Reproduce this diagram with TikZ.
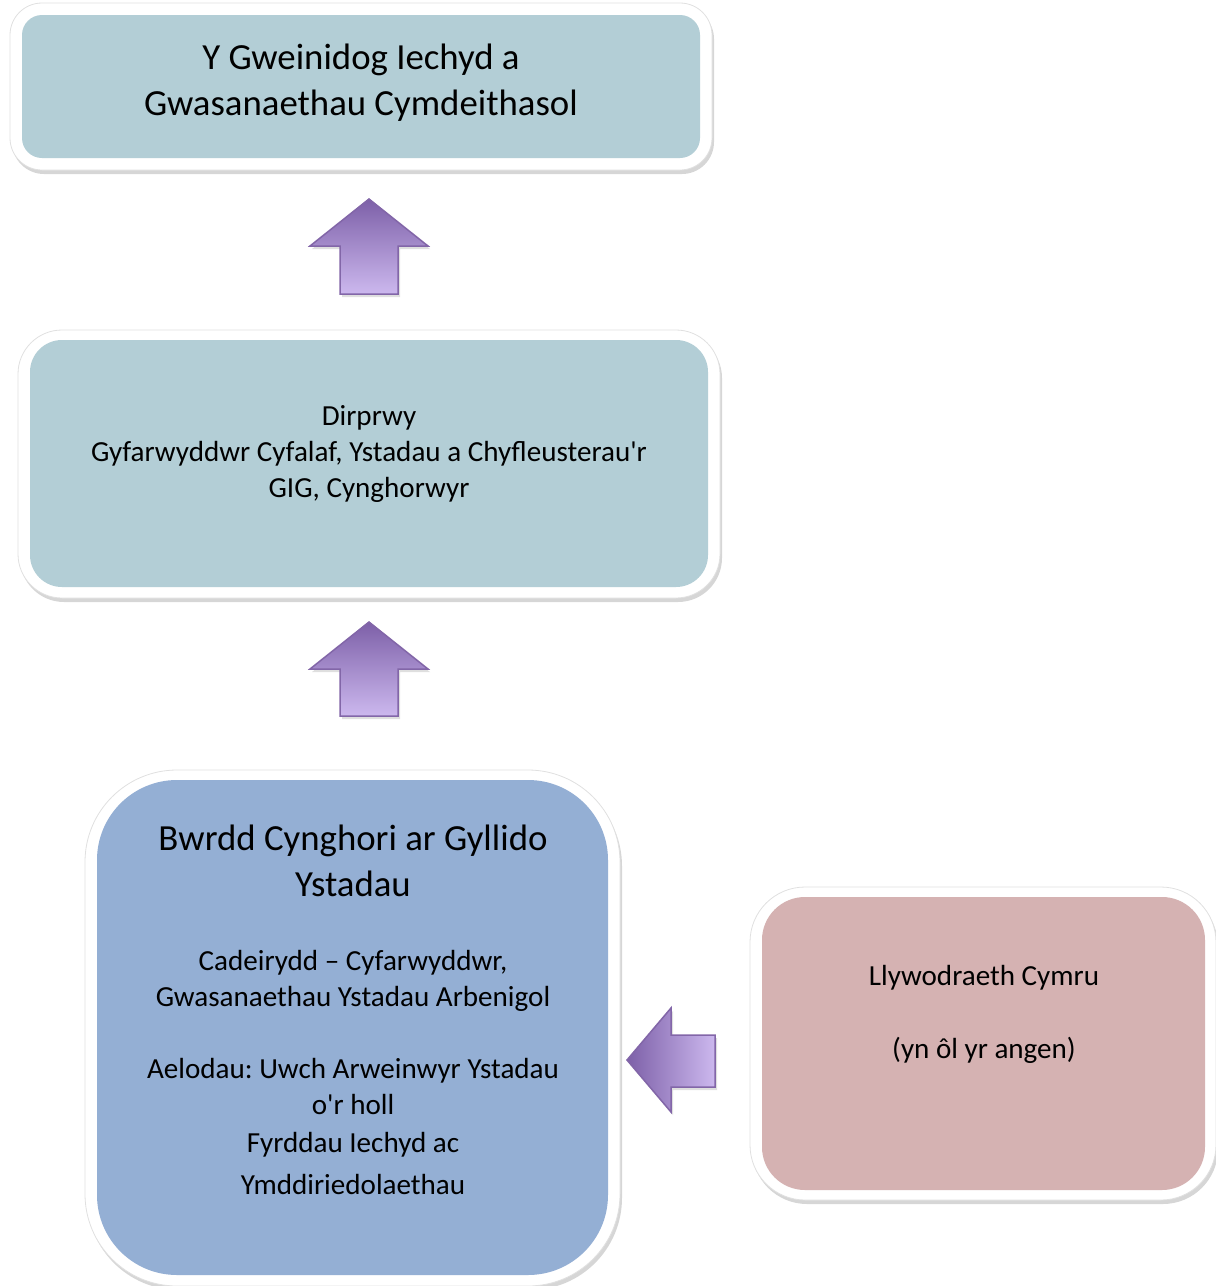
\documentclass[tikz,border=0pt]{standalone}
\usepackage{fontspec}
\setmainfont{Carlito}[Ligatures=TeXOff]
\usetikzlibrary{shadows}
\definecolor{boxblue}{RGB}{179,206,214}
\definecolor{boardblue}{RGB}{148,175,212}
\definecolor{govpink}{RGB}{213,178,178}
\definecolor{arrdark}{RGB}{125,96,168}
\definecolor{arrlight}{RGB}{204,184,238}
\definecolor{arredge}{RGB}{130,102,168}
\begin{document}
\frenchspacing
\begin{tikzpicture}[x=1pt,y=-1pt,
  outerframe/.style={fill=white, draw=black!12, line width=0.8pt, inner sep=0pt,
    drop shadow={shadow xshift=2pt, shadow yshift=-4pt, opacity=0.32}},
  innerbox/.style={inner sep=0pt, draw=none},
  bigtxt/.style={align=center, inner sep=0pt, font=\fontsize{36.8}{45.5}\selectfont},
  smalltxt/.style={align=center, inner sep=0pt, font=\fontsize{29.1}{36}\selectfont},
  blockarrow/.style={draw=arredge, line width=1.5pt, line join=miter,
    drop shadow={shadow xshift=2pt, shadow yshift=-3pt, opacity=0.25}}
]
\useasboundingbox (0,0) rectangle (1216,1286);

% top box
\node[outerframe, rounded corners=32pt, minimum width=702pt, minimum height=167pt] (topframe) at (361,86.5) {};
\node[innerbox, fill=boxblue, rounded corners=20pt, minimum width=678pt, minimum height=143pt] (top) at (361,86.5) {};
\node[bigtxt] (toptxt) at (361,82.5) {Y Gweinidog Iechyd a\\Gwasanaethau Cymdeithasol};

% middle box
\node[outerframe, rounded corners=44pt, minimum width=702pt, minimum height=268pt] (midframe) at (369,464) {};
\node[innerbox, fill=boxblue, rounded corners=32pt, minimum width=678pt, minimum height=247pt] (mid) at (369,463.5) {};
\node[smalltxt] (midtxt) at (369,454) {Dirprwy\\Gyfarwyddwr Cyfalaf, Ystadau a Chyfleusterau'r\\GIG, Cynghorwyr};

% bottom-left board box
\node[outerframe, rounded corners=92pt, minimum width=535pt, minimum height=516pt] (boardframe) at (352.5,1028) {};
\node[innerbox, fill=boardblue, rounded corners=80pt, minimum width=511pt, minimum height=495pt] (board) at (352.5,1027.5) {};
\node[bigtxt] (boardtitle) at (353,861) {Bwrdd Cynghori ar Gyllido\\Ystadau};
\node[smalltxt] (boardchair) at (353,981) {Cadeirydd – Cyfarwyddwr,\\Gwasanaethau Ystadau Arbenigol};
\node[smalltxt] (boardmembers) at (353,1126) {Aelodau: Uwch Arweinwyr Ystadau\\o'r holl\\[2pt]Fyrddau Iechyd ac\\[6pt]Ymddiriedolaethau};

% right government box
\node[outerframe, rounded corners=55pt, minimum width=466pt, minimum height=313pt] (govframe) at (983,1043.5) {};
\node[innerbox, fill=govpink, rounded corners=43pt, minimum width=443pt, minimum height=293pt] (gov) at (983.5,1043.5) {};
\node[smalltxt] (govtxt) at (984,1014.5) {Llywodraeth Cymru\\[37pt](yn ôl yr angen)};

% block arrows
\path[blockarrow, top color=arrdark, bottom color=arrlight]
  (369,199) -- (428,246) -- (398,246) -- (398,294) -- (340,294) -- (340,246) -- (310,246) -- cycle;
\path[blockarrow, top color=arrdark, bottom color=arrlight]
  (369,622) -- (428,669) -- (398,669) -- (398,716) -- (340,716) -- (340,669) -- (310,669) -- cycle;
\path[blockarrow, left color=arrdark, right color=arrlight]
  (627,1060) -- (671,1008) -- (671,1035) -- (715,1035) -- (715,1087) -- (671,1087) -- (671,1112) -- cycle;
\end{tikzpicture}
\end{document}
